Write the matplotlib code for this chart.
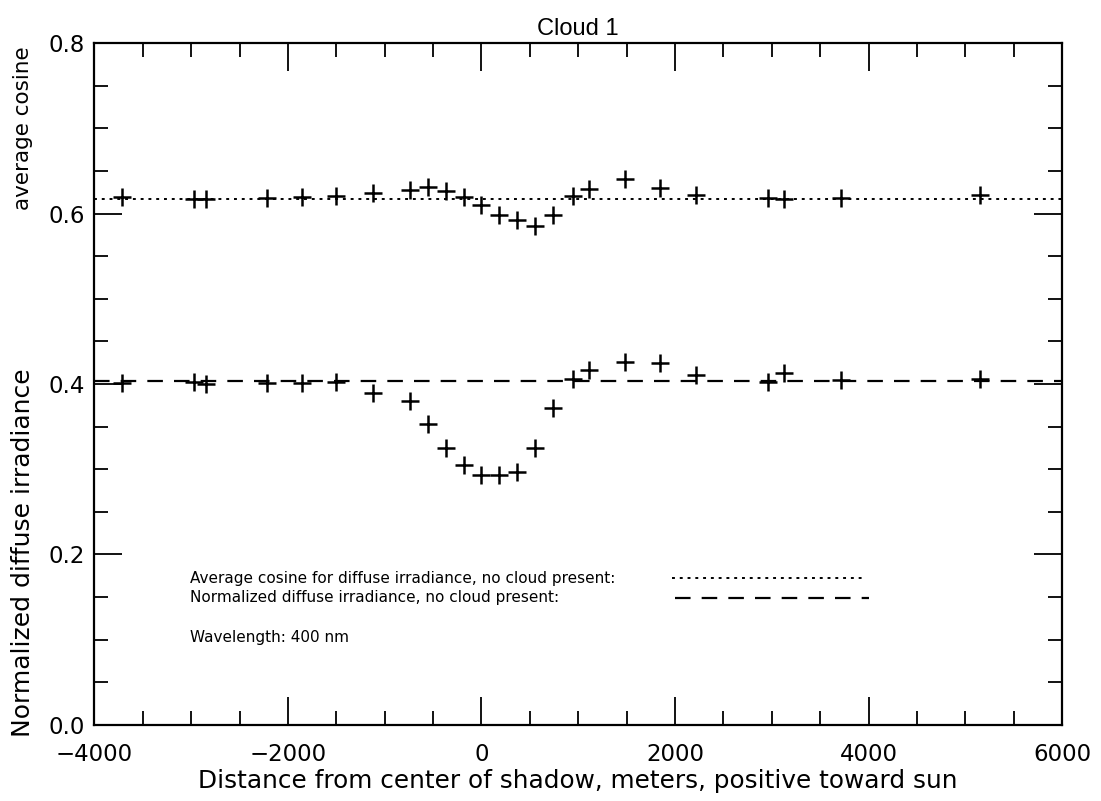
import numpy as np
import matplotlib
matplotlib.use("Agg")
import matplotlib.pyplot as plt
from matplotlib.ticker import MultipleLocator

# distance from center of shadow (m)
dist = [-3720, -2970, -2850, -2220, -1850, -1500, -1120, -740, -555, -370,
        -185, 0, 185, 370, 555, 740, 950, 1110, 1480, 1850,
        2220, 2960, 3130, 3720, 5150]
avg_cos = [0.619, 0.617, 0.617, 0.618, 0.619, 0.620, 0.624, 0.627, 0.631, 0.626,
           0.619, 0.610, 0.598, 0.592, 0.585, 0.598, 0.620, 0.629, 0.640, 0.630,
           0.622, 0.618, 0.617, 0.6185, 0.622]
norm_irr = [0.4015, 0.4027, 0.400, 0.4015, 0.401, 0.402, 0.390, 0.380, 0.353, 0.325,
            0.305, 0.293, 0.293, 0.297, 0.325, 0.3715, 0.4055, 0.417, 0.426, 0.425,
            0.4106, 0.4027, 0.4125, 0.4047, 0.406]
clear_cos = 0.617
clear_irr = 0.4035

FONT = "DejaVu Sans"

fig = plt.figure(figsize=(11.01, 8.01), dpi=100)
ax = fig.add_axes([0.0858, 0.0949, 0.8788, 0.8514])

ax.axhline(clear_cos, color="black", lw=1.4, dashes=(1.5, 2.5))
ax.axhline(clear_irr, color="black", lw=1.6, dashes=(7, 5))
ax.plot(dist, avg_cos, ls="none", marker="+", ms=13, mew=1.8, color="black")
ax.plot(dist, norm_irr, ls="none", marker="+", ms=13, mew=1.8, color="black")

ax.set_xlim(-4000, 6000)
ax.set_ylim(0.0, 0.8)
ax.xaxis.set_major_locator(MultipleLocator(2000))
ax.xaxis.set_minor_locator(MultipleLocator(500))
ax.yaxis.set_major_locator(MultipleLocator(0.2))
ax.yaxis.set_minor_locator(MultipleLocator(0.05))
ax.yaxis.set_major_formatter(plt.FormatStrFormatter("%.1f"))
ax.tick_params(which="both", direction="in", top=True, right=True, width=1.3)
ax.tick_params(which="major", length=20, labelsize=16.5)
ax.tick_params(axis="y", which="major", pad=7)
ax.tick_params(axis="x", which="major", pad=13)
ax.tick_params(which="minor", length=10)
for lab in ax.get_xticklabels() + ax.get_yticklabels():
    lab.set_family(FONT)
for s in ax.spines.values():
    s.set_linewidth(1.6)

ax.set_xlabel("Distance from center of shadow, meters, positive toward sun",
              fontsize=17.8, family=FONT, labelpad=2)
ax.set_title("Cloud 1", fontsize=17, family="Liberation Sans", pad=6)

fig.text(0.021, 0.84, "average cosine", rotation=90, ha="center", va="center",
         fontsize=15.5, family=FONT)
fig.text(0.021, 0.31, "Normalized diffuse irradiance", rotation=90, ha="center",
         va="center", fontsize=18, family=FONT)

# legend block drawn in data coordinates
ax.text(-3010, 0.172, "Average cosine for diffuse irradiance, no cloud present:",
        fontsize=11, va="center", ha="left")
ax.plot([1965, 3930], [0.172, 0.172], color="black", lw=1.4, dashes=(1.5, 2.5))
ax.text(-3010, 0.149, "Normalized diffuse irradiance, no cloud present:",
        fontsize=11, va="center", ha="left")
ax.plot([2005, 4010], [0.149, 0.149], color="black", lw=1.6, dashes=(7, 5))
ax.text(-3010, 0.103, "Wavelength: 400 nm", fontsize=11, va="center", ha="left")

fig.savefig("out.png", dpi=100)
